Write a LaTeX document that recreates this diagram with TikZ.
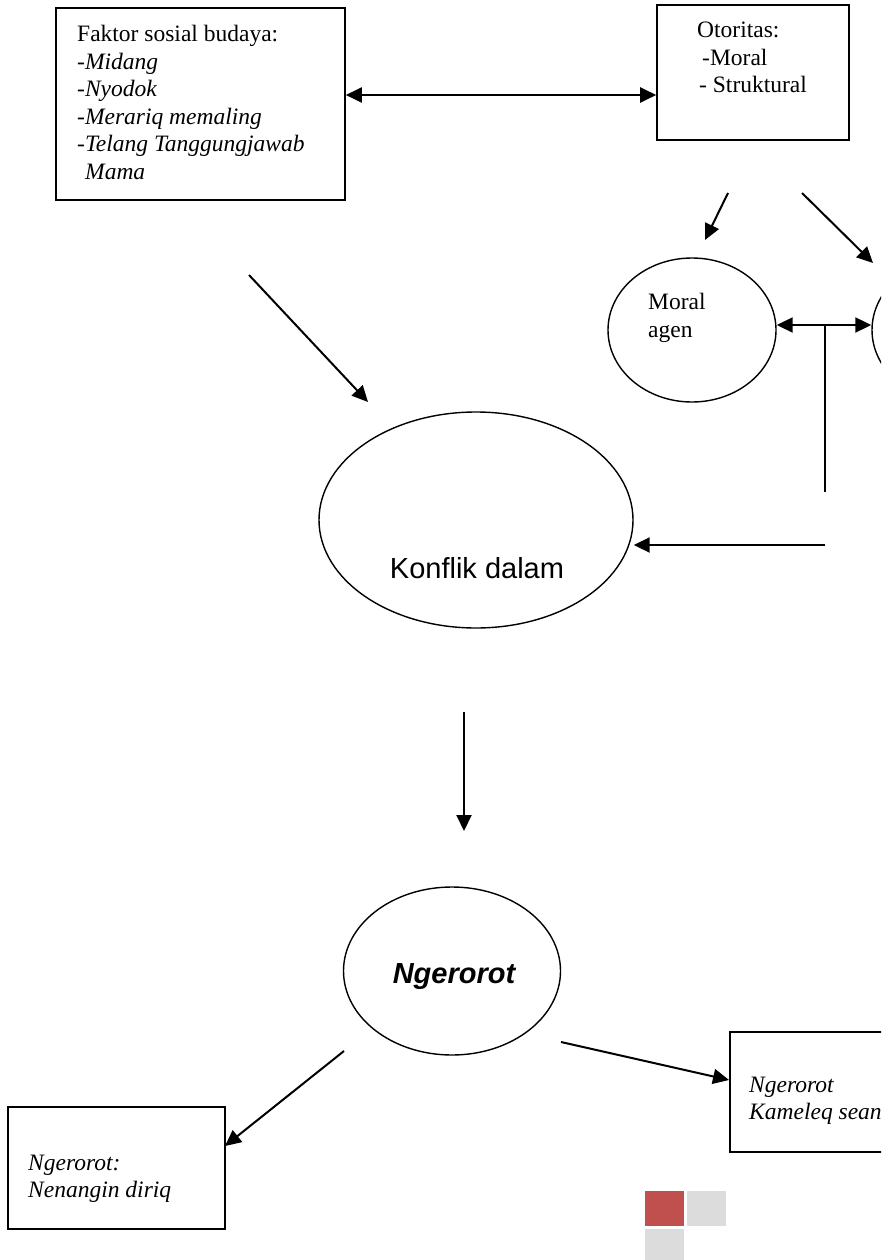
\documentclass[tikz,border=0pt]{standalone}
\usepackage{fontspec}
\setmainfont{Liberation Serif}
\newfontfamily\arialfont{Liberation Sans}
\usetikzlibrary{arrows.meta,shapes.geometric}

\definecolor{tilered}{HTML}{C0504D}
\definecolor{tilegrey}{HTML}{DCDCDC}

\tikzset{
  box/.style={draw, line width=1.6pt, rectangle, inner sep=0pt},
  oval/.style={draw, line width=1.4pt, ellipse, inner sep=0pt},
  txt/.style={anchor=base west, inner sep=0pt, font=\fontsize{23.5}{27.5}\selectfont},
  bigtxt/.style={anchor=base, inner sep=0pt, font=\arialfont\fontsize{29}{33}\selectfont},
  tip/.tip={Triangle[length=16pt,width=15pt]},
  conn/.style={line width=2pt, -tip},
  dbl/.style={line width=2pt, tip-tip},
  plain/.style={line width=2pt},
  tile/.style={draw=none, rectangle, inner sep=0pt, minimum width=39pt, minimum height=35pt}
}

\begin{document}
\begin{tikzpicture}[x=1pt, y=-1pt]
  \clip (0,0) rectangle (881,1260);
  \fill[white] (0,0) rectangle (881,1260);

  % --- upper boxes ---
  \node[box, minimum width=289pt, minimum height=192pt] (faktor) at (200.5,104) {};
  \node[txt] (f1) at (77,42) {Faktor sosial budaya:};
  \node[txt] (f2) at (77,69.5) {-\textit{Midang}};
  \node[txt] (f3) at (77,97) {-\textit{Nyodok}};
  \node[txt] (f4) at (77,124.5) {-\textit{Merariq memaling}};
  \node[txt] (f5) at (77,152) {-\textit{Telang Tanggungjawab}};
  \node[txt] (f6) at (85,179.5) {\itshape Mama};

  \node[box, minimum width=192pt, minimum height=135pt] (otoritas) at (753,72.5) {};
  \node[txt] (o1) at (697,38) {Otoritas:};
  \node[txt] (o2) at (702,65.5) {-Moral};
  \node[txt] (o3) at (699,93) {- Struktural};

  \coordinate (ya) at (0,95);
  \draw[dbl] (faktor.east |- ya) -- (otoritas.west |- ya);

  % --- agents ---
  \node[oval, minimum width=168pt, minimum height=144pt] (moral) at (692,330) {};
  \node[txt] (m1) at (648,309) {Moral};
  \node[txt] (m2) at (648,337) {agen};
  \node[oval, minimum width=168pt, minimum height=144pt] (struk) at (956,330) {};

  \coordinate (a1s) at (728,193);
  \coordinate (a1e) at (705,240);
  \coordinate (a2s) at (802,193);
  \coordinate (a2e) at (873,263);
  \draw[conn] (a1s) -- (a1e);
  \draw[conn] (a2s) -- (a2e);

  \coordinate (yb) at (0,325);
  \draw[dbl] (moral.east |- yb) -- (struk.west |- yb);
  \coordinate (jn) at (825,325);
  \coordinate (jb) at (825,492);
  \draw[plain] (jn) -- (jb);

  % --- conflict ---
  \node[oval, minimum width=314pt, minimum height=216pt] (konflik) at (476,520) {};
  \node[bigtxt] (ktxt) at (477,578) {Konflik dalam};

  \coordinate (fk1) at (249,275);
  \coordinate (fk2) at (368,402);
  \draw[conn] (fk1) -- (fk2);

  \coordinate (yc) at (0,545);
  \coordinate (rs) at (825,545);
  \draw[conn] (rs) -- (konflik.east |- yc);

  \coordinate (d1) at (464,712);
  \coordinate (d2) at (464,831);
  \draw[conn] (d1) -- (d2);

  % --- outcome ---
  \node[oval, minimum width=217pt, minimum height=168pt] (ngerorot) at (452,971) {};
  \node[bigtxt, font=\arialfont\bfseries\itshape\fontsize{29}{33}\selectfont] (ntxt) at (454,983.5) {Ngerorot};

  \node[box, minimum width=217pt, minimum height=122pt] (left) at (116.5,1168) {};
  \node[txt] (l1) at (28,1170) {\itshape Ngerorot:};
  \node[txt] (l2) at (28,1197) {\itshape Nenangin diriq};

  \node[box, minimum width=200pt, minimum height=120pt, anchor=north west] (right) at (729,1031) {};
  \node[txt] (r1) at (749,1092) {\itshape Ngerorot};
  \node[txt] (r2) at (749,1119) {\itshape Kameleq sean};

  \coordinate (b1s) at (344,1051);
  \coordinate (b1e) at (225,1146);
  \coordinate (b2s) at (561,1042);
  \coordinate (b2e) at (729,1080);
  \draw[conn] (b1s) -- (b1e);
  \draw[conn] (b2s) -- (b2e);

  % --- corner tiles ---
  \node[tile, fill=tilered, anchor=north west] (t1) at (645,1191) {};
  \node[tile, fill=tilegrey, anchor=north west] (t2) at (687,1191) {};
  \node[tile, fill=tilegrey, anchor=north west] (t3) at (645,1229) {};
\end{tikzpicture}
\end{document}
